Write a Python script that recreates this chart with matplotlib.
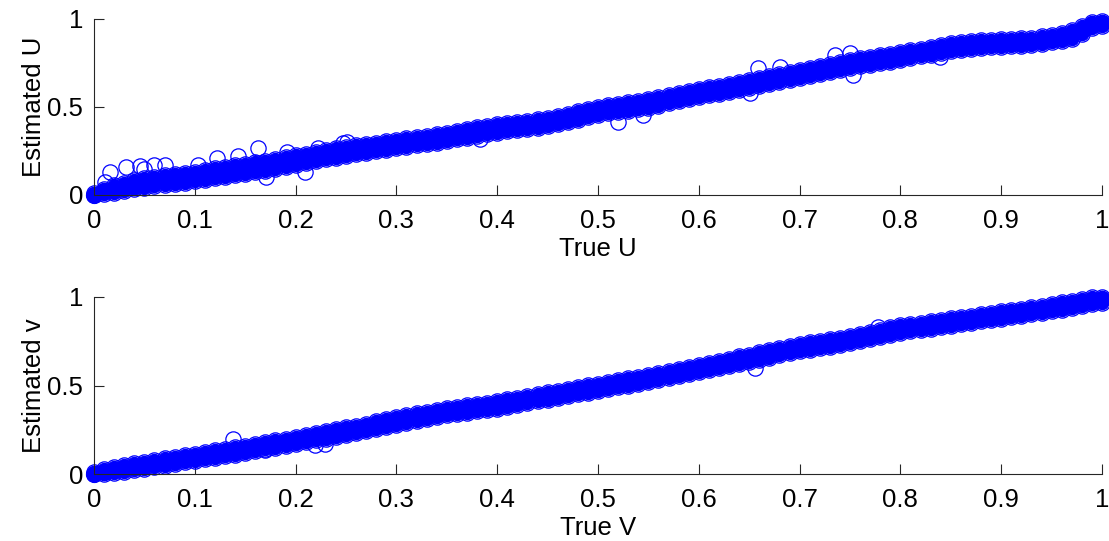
import matplotlib
matplotlib.use("Agg")
import matplotlib.pyplot as plt

plt.rcParams['font.family'] = ['Liberation Sans', 'DejaVu Sans']

true_grid = [0.00,0.01,0.02,0.03,0.04,0.05,0.06,0.07,0.08,0.09,
             0.10,0.11,0.12,0.13,0.14,0.15,0.16,0.17,0.18,0.19,
             0.20,0.21,0.22,0.23,0.24,0.25,0.26,0.27,0.28,0.29,
             0.30,0.31,0.32,0.33,0.34,0.35,0.36,0.37,0.38,0.39,
             0.40,0.41,0.42,0.43,0.44,0.45,0.46,0.47,0.48,0.49,
             0.50,0.51,0.52,0.53,0.54,0.55,0.56,0.57,0.58,0.59,
             0.60,0.61,0.62,0.63,0.64,0.65,0.66,0.67,0.68,0.69,
             0.70,0.71,0.72,0.73,0.74,0.75,0.76,0.77,0.78,0.79,
             0.80,0.81,0.82,0.83,0.84,0.85,0.86,0.87,0.88,0.89,
             0.90,0.91,0.92,0.93,0.94,0.95,0.96,0.97,0.98,0.99,
             1.00]

# Estimated U (top panel): band middle, lower and upper rows
est_u_mid = [0.000,0.020,0.034,0.047,0.060,0.072,0.080,0.087,0.093,0.099,
             0.106,0.115,0.124,0.133,0.141,0.150,0.159,0.168,0.178,0.189,
             0.199,0.209,0.219,0.229,0.240,0.250,0.258,0.266,0.274,0.282,
             0.290,0.298,0.306,0.314,0.322,0.331,0.340,0.350,0.360,0.370,
             0.379,0.386,0.393,0.400,0.407,0.415,0.426,0.438,0.452,0.466,
             0.480,0.488,0.496,0.504,0.512,0.521,0.532,0.544,0.556,0.568,
             0.580,0.590,0.600,0.610,0.620,0.630,0.642,0.654,0.666,0.678,
             0.690,0.701,0.712,0.723,0.734,0.745,0.754,0.763,0.772,0.781,
             0.790,0.800,0.810,0.820,0.830,0.840,0.846,0.852,0.857,0.861,
             0.864,0.866,0.868,0.872,0.880,0.889,0.898,0.912,0.940,0.970,
             0.978]
est_u_lo = [0.000,0.004,0.012,0.022,0.032,0.042,0.050,0.058,0.064,0.070,
            0.077,0.086,0.095,0.104,0.112,0.120,0.129,0.139,0.150,0.161,
            0.170,0.180,0.191,0.202,0.213,0.223,0.232,0.241,0.249,0.257,
            0.265,0.274,0.282,0.290,0.298,0.307,0.316,0.326,0.336,0.346,
            0.355,0.362,0.369,0.376,0.383,0.391,0.401,0.413,0.427,0.441,
            0.455,0.464,0.472,0.480,0.488,0.497,0.508,0.520,0.532,0.544,
            0.556,0.566,0.576,0.586,0.596,0.606,0.618,0.630,0.642,0.654,
            0.666,0.677,0.688,0.699,0.710,0.721,0.731,0.740,0.749,0.758,
            0.767,0.777,0.787,0.797,0.807,0.817,0.824,0.830,0.835,0.839,
            0.842,0.844,0.846,0.850,0.858,0.867,0.876,0.888,0.912,0.950,
            0.962]
est_u_hi = [0.010,0.036,0.054,0.070,0.084,0.096,0.104,0.111,0.118,0.125,
            0.133,0.142,0.151,0.160,0.168,0.177,0.186,0.195,0.205,0.215,
            0.225,0.235,0.245,0.255,0.265,0.274,0.282,0.290,0.298,0.306,
            0.314,0.322,0.330,0.338,0.346,0.355,0.364,0.374,0.384,0.394,
            0.402,0.409,0.416,0.423,0.430,0.438,0.449,0.461,0.475,0.489,
            0.502,0.510,0.518,0.526,0.534,0.543,0.554,0.566,0.578,0.590,
            0.602,0.612,0.622,0.632,0.642,0.652,0.664,0.676,0.688,0.700,
            0.712,0.723,0.734,0.745,0.756,0.767,0.776,0.785,0.794,0.803,
            0.812,0.822,0.832,0.842,0.852,0.862,0.868,0.874,0.879,0.883,
            0.886,0.888,0.890,0.894,0.902,0.911,0.920,0.936,0.962,0.985,
            0.990]
u_out_true = [0.011,0.016,0.032,0.046,0.050,0.060,0.070,0.103,0.122,0.143,
              0.163,0.171,0.191,0.209,0.222,0.247,0.251,0.383,0.520,0.545,
              0.651,0.659,0.681,0.735,0.750,0.753,0.839]
u_out_est = [0.076,0.132,0.157,0.165,0.145,0.170,0.170,0.170,0.210,0.220,
             0.265,0.104,0.246,0.132,0.266,0.295,0.300,0.320,0.416,0.455,
             0.578,0.720,0.730,0.795,0.806,0.680,0.782]

# Estimated v (bottom panel)
est_v_mid = [0.000,0.012,0.022,0.032,0.041,0.050,0.059,0.068,0.077,0.086,
             0.095,0.104,0.113,0.122,0.131,0.140,0.150,0.160,0.170,0.180,
             0.190,0.200,0.211,0.221,0.232,0.243,0.254,0.265,0.277,0.288,
             0.300,0.311,0.322,0.332,0.343,0.352,0.360,0.368,0.375,0.383,
             0.391,0.401,0.411,0.421,0.431,0.441,0.451,0.461,0.471,0.481,
             0.490,0.500,0.510,0.520,0.530,0.540,0.551,0.562,0.573,0.585,
             0.596,0.608,0.620,0.632,0.644,0.655,0.667,0.679,0.691,0.703,
             0.714,0.723,0.732,0.741,0.750,0.760,0.772,0.784,0.796,0.808,
             0.819,0.827,0.835,0.843,0.851,0.859,0.867,0.875,0.883,0.891,
             0.899,0.907,0.915,0.923,0.931,0.940,0.950,0.960,0.970,0.980,
             0.987]
est_v_lo = [0.000,0.000,0.004,0.013,0.021,0.030,0.039,0.048,0.057,0.066,
            0.075,0.084,0.092,0.101,0.110,0.119,0.129,0.139,0.149,0.159,
            0.169,0.179,0.190,0.200,0.211,0.222,0.233,0.244,0.256,0.267,
            0.279,0.290,0.301,0.311,0.322,0.331,0.339,0.347,0.354,0.362,
            0.370,0.380,0.390,0.400,0.410,0.420,0.430,0.440,0.450,0.460,
            0.469,0.479,0.489,0.499,0.509,0.519,0.530,0.541,0.552,0.564,
            0.575,0.587,0.599,0.611,0.623,0.634,0.646,0.658,0.670,0.682,
            0.693,0.702,0.711,0.720,0.729,0.739,0.751,0.763,0.775,0.787,
            0.798,0.806,0.814,0.822,0.830,0.838,0.846,0.854,0.862,0.870,
            0.878,0.886,0.894,0.902,0.910,0.919,0.929,0.939,0.949,0.959,
            0.968]
est_v_hi = [0.012,0.026,0.040,0.051,0.061,0.070,0.079,0.088,0.097,0.106,
            0.115,0.124,0.133,0.142,0.151,0.160,0.170,0.180,0.190,0.200,
            0.210,0.220,0.231,0.241,0.252,0.263,0.274,0.285,0.297,0.308,
            0.320,0.331,0.342,0.352,0.363,0.372,0.380,0.388,0.395,0.403,
            0.411,0.421,0.431,0.441,0.451,0.461,0.471,0.481,0.491,0.501,
            0.510,0.520,0.530,0.540,0.550,0.560,0.571,0.582,0.593,0.605,
            0.616,0.628,0.640,0.652,0.664,0.675,0.687,0.699,0.711,0.723,
            0.734,0.743,0.752,0.761,0.770,0.780,0.792,0.804,0.816,0.828,
            0.839,0.847,0.855,0.863,0.871,0.879,0.887,0.895,0.903,0.911,
            0.919,0.927,0.935,0.943,0.951,0.960,0.970,0.980,0.990,0.998,
            1.000]
v_out_true = [0.138,0.170,0.219,0.229,0.656,0.778]
v_out_est = [0.200,0.136,0.164,0.170,0.600,0.832]

xticks = [0, 0.1, 0.2, 0.3, 0.4, 0.5, 0.6, 0.7, 0.8, 0.9, 1]
xtick_labels = ['0', '0.1', '0.2', '0.3', '0.4', '0.5', '0.6', '0.7', '0.8', '0.9', '1']
yticks = [0, 0.5, 1]
ytick_labels = ['0', '0.5', '1']

BLUE = '#0000ff'
FS = 18.5

fig = plt.figure(figsize=(11.09, 5.41), dpi=100)
ax1 = fig.add_axes([94/1109, (541-195)/541, 1008/1109, 176/541])
ax2 = fig.add_axes([94/1109, (541-474)/541, 1008/1109, 177/541])

def draw(ax, mid, lo, hi, ox, oy, xlabel, ylabel):
    ring = dict(linestyle='none', marker='o', markersize=11, markerfacecolor='none',
                markeredgecolor=BLUE, markeredgewidth=0.9, clip_on=False)
    core = dict(ring, markerfacecolor=BLUE, markersize=11.5)
    fill = dict(ring, markerfacecolor=BLUE, markersize=8.8)
    ax.plot(true_grid, mid, **core)
    for row in (lo, hi):
        ax.plot(true_grid, row, **fill)
        ax.plot(true_grid, row, **ring)
    ax.plot(ox, oy, **ring)
    ax.set_xlim(0, 1)
    ax.set_ylim(0, 1)
    ax.set_xticks(xticks)
    ax.set_xticklabels(xtick_labels)
    ax.set_yticks(yticks)
    ax.set_yticklabels(ytick_labels)
    for s in ('top', 'right'):
        ax.spines[s].set_visible(False)
    for s in ('left', 'bottom'):
        ax.spines[s].set_color('#262626')
        ax.spines[s].set_linewidth(0.8)
    ax.tick_params(direction='in', length=7, width=0.8, colors='#262626',
                   labelcolor='black', labelsize=FS)
    ax.tick_params(axis='x', pad=10)
    ax.tick_params(axis='y', pad=8)
    ax.set_xlabel(xlabel, fontsize=FS, labelpad=3)
    ax.set_ylabel(ylabel, fontsize=FS, labelpad=0.5)

draw(ax1, est_u_mid, est_u_lo, est_u_hi, u_out_true, u_out_est, 'True U', 'Estimated U')
draw(ax2, est_v_mid, est_v_lo, est_v_hi, v_out_true, v_out_est, 'True V', 'Estimated v')

fig.savefig('out.png', dpi=100)
